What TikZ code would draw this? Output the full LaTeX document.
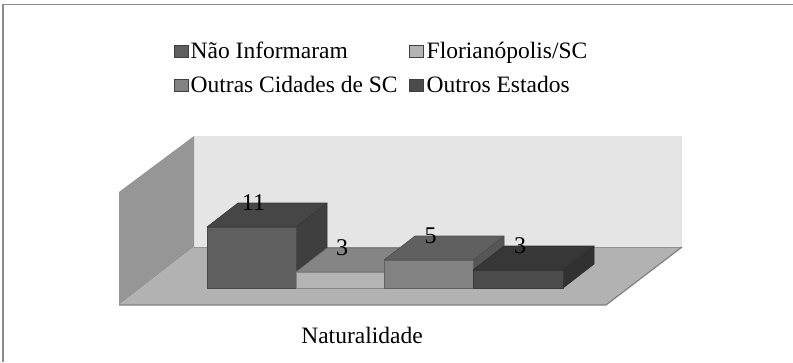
\documentclass[tikz,border=0pt]{standalone}
\usepackage{fontspec}
\setmainfont{Liberation Serif}
\definecolor{naoinf}{HTML}{5F5F5F}
\definecolor{floripa}{HTML}{B4B4B4}
\definecolor{cidsc}{HTML}{828282}
\definecolor{estados}{HTML}{4B4B4B}
\begin{document}
\begin{tikzpicture}[x=1pt,y=-1pt,
            txt/.style={inner sep=0pt,font=\fontsize{23.5}{28}\selectfont},
            key/.style={draw=black!75,line width=0.6pt,minimum width=14pt,minimum height=12pt,inner sep=0pt},
            face/.style={line width=0.6pt,line join=round}]
            \useasboundingbox (0,0) rectangle (793,362);
            \draw[black!45,line width=1.5pt] (793,4.5) -- (3,4.5) -- (3,362);
            % legenda
            \node[key,fill=naoinf] (keyA) at (181,51) {};
            \node[txt,anchor=base west] (legA) at (190.5,58) {Não Informaram};
            \node[key,fill=floripa] (keyB) at (416,51) {};
            \node[txt,anchor=base west] (legB) at (426.5,58) {Florianópolis/SC};
            \node[key,fill=cidsc] (keyC) at (181,85.5) {};
            \node[txt,anchor=base west] (legC) at (190.5,92.5) {Outras Cidades de SC};
            \node[key,fill=estados] (keyD) at (416,85.5) {};
            \node[txt,anchor=base west] (legD) at (426.5,92.5) {Outros Estados};
            % paredes e piso
            \fill[black!10] (194,136) rectangle (682,247);
            \fill[black!41] (119,192) -- (194,136) -- (194,247) -- (119,305) -- cycle;
            \fill[black!30] (119,305) -- (194,247) -- (682,247) -- (606,305) -- cycle;
            \draw[black!42,line width=1pt] (194,247) -- (682,247);
            \draw[black!50,line width=1.2pt] (119,305) -- (606,305) -- (682,247);
            % barras
            \foreach \i/\xa/\xb/\h/\val/\cf in {1/207/296/61/11/naoinf,2/296/384/16/3/floripa,3/384/473/28/5/cidsc,4/473/563/18/3/estados}{
                \filldraw[face,fill=\cf!66!black,draw=\cf!55!black] (\xb,288) -- ++(31,-24) -- ++(0,-\h) -- ++(-31,24) -- cycle;
                \filldraw[face,fill=\cf!74!black,draw=\cf!60!black] (\xa,288-\h) -- ++(31,-24) -- ++({\xb-\xa},0) -- ++(-31,24) -- cycle;
                \filldraw[face,fill=\cf,draw=\cf!75!black] (\xa,288) rectangle (\xb,288-\h);
                \node[txt,font=\fontsize{24}{28}\selectfont] (lbl\i) at ({(\xa+\xb)/2+2},288-\h-24.5) {\val};
            }
            \node[txt] (eixo) at (362,335) {Naturalidade};
        \end{tikzpicture}
\end{document}
